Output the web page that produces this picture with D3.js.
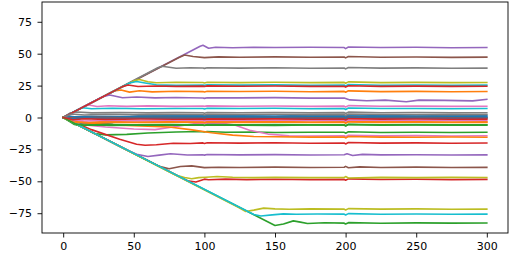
<!DOCTYPE html>
<html>
<head>
<meta charset="utf-8">
<script src="https://d3js.org/d3.v7.min.js"></script>
<style>
  body { margin: 0; background: #fff; }
  text { font-family: "DejaVu Sans", sans-serif; }
</style>
</head>
<body>
<script>
// tick labels
var xTicks = [0, 50, 100, 150, 200, 250, 300];
var yTicks = [-75, -50, -25, 0, 25, 50, 75];

// one array of [x, y] per run, in the order they were plotted (colours cycle)
var run0 = [[0,0],[3,1.2],[8,0.6],[20,0.9],[40,0.7],[60,1.0],[80,0.7],[99,0.9],[100,0.6],[102,1.0],[125,0.8],[150,0.6],[175,0.9],[199,0.8],[200,0.2],[202,1.1],[225,0.7],[250,0.9],[275,0.7],[300,0.8]];
var run1 = [[0,0],[36,20.7],[41,21.6],[47,19.9],[54,20.9],[63,20.1],[80,20.6],[99,20.3],[100,20.0],[102,20.6],[125,20.4],[150,20.6],[175,20.2],[199,20.5],[200,19.8],[202,20.9],[225,20.3],[250,20.5],[275,20.2],[300,20.4]];
var run2 = [[0,0],[150,-84.6],[156,-83.5],[163,-81],[168,-82],[173,-83],[185,-82.5],[199,-82.8],[200,-83.4],[202,-82.4],[225,-82.9],[250,-82.6],[275,-82.8],[300,-82.7]];
var run3 = [[0,0],[88,-49.6],[94,-50.6],[100,-48.3],[103,-48.8],[115,-48.3],[130,-48.7],[150,-48.4],[175,-48.7],[199,-48.5],[200,-49.2],[202,-48.1],[225,-48.6],[250,-48.4],[275,-48.7],[300,-48.5]];
var run4 = [[0,0],[97,55.8],[99,56.6],[103,54.3],[108,55.1],[120,54.7],[135,55.1],[150,54.8],[175,55],[199,54.8],[200,54.0],[202,55.2],[225,54.8],[250,55],[275,54.7],[300,54.8]];
var run5 = [[0,0],[82,47],[86,49],[92,47.8],[100,46.9],[110,47.5],[125,47.2],[150,47.5],[175,47.2],[199,47.4],[200,46.7],[202,47.8],[225,47.2],[250,47.4],[275,47.1],[300,47.3]];
var run6 = [[0,0],[15,8.6],[18,9.8],[24,8.6],[32,9.2],[45,8.7],[60,9.1],[80,8.7],[99,9],[100,8.7],[102,9.1],[125,8.8],[150,9],[175,8.7],[199,8.9],[200,8.2],[202,9.3],[225,8.8],[250,8.9],[275,8.7],[300,8.8]];
var run7 = [[0,0],[67,39],[70,40.2],[80,38.6],[90,39],[99,38.8],[100,38.5],[102,39.0],[125,38.7],[150,39],[175,38.6],[199,38.8],[200,38.1],[202,39.2],[225,38.7],[250,38.9],[275,38.6],[300,38.7]];
var run8 = [[0,0],[50,28.7],[54,29.8],[60,28],[66,27.2],[80,27.6],[99,27.4],[100,27.1],[102,27.6],[125,27.3],[150,27.6],[175,27.3],[199,27.5],[200,26.8],[202,27.9],[225,27.3],[250,27.5],[275,27.3],[300,27.4]];
var run9 = [[0,0],[47,27],[52,28.2],[58,27],[66,25.6],[80,25.2],[99,25.5],[100,25.2],[102,25.7],[125,25.4],[150,25.6],[175,25.3],[199,25.5],[200,24.8],[202,25.9],[225,25.3],[250,25.5],[275,25.3],[300,25.4]];
var run10 = [[0,0],[12,-4.5],[25,-5.3],[35,-4],[42,-1.5],[48,0.8],[55,1.6],[70,1.9],[99,1.7],[100,1.4],[102,1.9],[125,1.8],[150,2],[175,1.7],[199,1.8],[200,1.1],[202,2.2],[225,1.7],[250,1.9],[275,1.7],[300,1.8]];
var run11 = [[0,0],[6,-3],[15,-4],[30,-3.2],[50,-3.6],[75,-3.3],[99,-3.5],[100,-3.8],[102,-3.3],[125,-3.4],[150,-3.2],[175,-3.5],[199,-3.3],[200,-4.0],[202,-3.0],[225,-3.4],[250,-3.3],[275,-3.5],[300,-3.4]];
var run12 = [[0,0],[22,-12.5],[30,-13.6],[45,-13.2],[60,-12.2],[80,-11.4],[97,-11],[100,-11.4],[102,-11.0],[115,-11.6],[135,-11.4],[150,-11.7],[175,-11.5],[199,-11.6],[200,-12.3],[202,-11.2],[225,-11.7],[250,-11.5],[275,-11.7],[300,-11.6]];
var run13 = [[0,0],[20,-9.5],[40,-17],[52,-21],[58,-21.8],[66,-21.3],[78,-20.2],[90,-20.4],[99,-19.9],[100,-20.3],[102,-19.8],[125,-20.1],[150,-19.8],[175,-20.2],[199,-20],[200,-20.7],[202,-19.6],[225,-20.1],[250,-19.9],[275,-20.2],[300,-20]];
var run14 = [[0,0],[28,16.2],[33,17.6],[42,15.5],[52,16.1],[65,15.4],[80,15.7],[99,15.3],[100,15.0],[102,15.5],[125,15.4],[150,15.6],[175,15.2],[199,15.3],[203,13.8],[215,13.1],[228,13.6],[243,12.4],[252,13.6],[270,13.4],[290,13],[300,14.2]];
var run15 = [[0,0],[68,-38.3],[75,-40.2],[83,-38.4],[91,-37.9],[100,-39.3],[110,-39],[125,-39.2],[150,-38.9],[175,-39.2],[199,-39],[200,-38.3],[202,-39.4],[210,-38.7],[225,-39.2],[250,-38.9],[275,-39.2],[300,-39.1]];
var run16 = [[0,0],[12,-5.5],[30,-7.5],[50,-9],[65,-9.5],[80,-7],[95,-4.5],[110,-4.2],[122,-6],[132,-10],[145,-13],[160,-14.3],[175,-14.5],[199,-14.3],[200,-15.0],[202,-13.9],[225,-14.4],[250,-14.2],[275,-14.5],[300,-14.3]];
var run17 = [[0,0],[5,3.5],[10,4.3],[20,3.6],[40,3.9],[60,3.6],[80,3.8],[99,3.7],[100,3.4],[102,3.9],[125,3.7],[150,3.9],[175,3.6],[199,3.8],[200,3.1],[202,4.2],[225,3.7],[250,3.9],[275,3.6],[300,3.7]];
var run18 = [[0,0],[80,-45.2],[86,-47],[91,-48],[96,-47.1],[101,-46.8],[109,-46.2],[120,-46.8],[135,-47.1],[150,-46.9],[175,-47.1],[199,-47],[200,-46.3],[202,-47.4],[225,-46.9],[250,-47.1],[275,-46.9],[300,-47]];
var run19 = [[0,0],[11,6.5],[14,7.6],[20,6.8],[35,7.2],[55,6.9],[80,7.1],[99,7],[100,6.7],[102,7.2],[125,7],[150,7.2],[175,6.9],[199,7],[200,6.3],[202,7.4],[225,7],[250,7.1],[275,6.9],[300,7]];
var run20 = [[0,0],[4,0.8],[12,0.1],[30,0.4],[55,0.2],[80,0.4],[99,0.3],[100,0.0],[102,0.5],[125,0.3],[150,0.5],[175,0.2],[199,0.3],[200,-0.4],[202,0.7],[225,0.3],[250,0.4],[275,0.2],[300,0.3]];
var run21 = [[0,0],[20,-4.5],[40,-6],[60,-6.8],[75,-7.5],[90,-9.5],[105,-12],[120,-13.8],[135,-14.9],[150,-15.1],[175,-15.4],[199,-15.3],[200,-16.0],[202,-14.9],[225,-15.4],[250,-15.5],[275,-15.3],[300,-15.5]];
var run22 = [[0,0],[8,-5.5],[12,-6.5],[20,-5.8],[35,-6.2],[55,-5.9],[75,-6.1],[99,-6],[100,-6.3],[102,-5.8],[125,-6],[150,-6.2],[175,-5.9],[199,-6],[200,-6.7],[202,-5.6],[225,-6.1],[250,-5.9],[275,-6.1],[300,-6]];
var run23 = [[0,0],[42,24.2],[46,25.5],[53,24.3],[65,24.7],[80,24.4],[99,24.6],[100,24.3],[102,24.8],[125,24.5],[150,24.7],[175,24.4],[199,24.5],[200,23.8],[202,24.9],[225,24.4],[250,24.6],[275,24.4],[300,24.5]];
var run24 = [[0,0],[45,-25.5],[52,-28.8],[60,-30.5],[68,-29.5],[76,-28.4],[88,-29.4],[99,-29.2],[100,-29.5],[102,-29.0],[125,-29.3],[150,-29.1],[175,-29.4],[199,-29.2],[201,-28.4],[205,-29.8],[212,-28.9],[225,-29.3],[250,-29.2],[275,-29.4],[300,-29.3]];
var run25 = [[0,0],[10,-0.5],[25,0.1],[45,-0.3],[70,0],[99,-0.2],[100,-0.5],[102,0.0],[125,-0.2],[150,0],[175,-0.3],[199,-0.2],[200,-0.9],[202,0.2],[225,-0.2],[250,-0.1],[275,-0.3],[300,-0.2]];
var run26 = [[0,0],[8,-2],[15,-2.8],[30,-2.1],[50,-2.5],[75,-2.2],[99,-2.4],[100,-2.7],[102,-2.2],[125,-2.3],[150,-2.1],[175,-2.4],[199,-2.3],[200,-3.0],[202,-1.9],[225,-2.3],[250,-2.2],[275,-2.4],[300,-2.3]];
var run27 = [[0,0],[6,2.8],[15,2],[30,2.5],[50,2.2],[75,2.4],[99,2.3],[100,2.0],[102,2.5],[125,2.3],[150,2.5],[175,2.2],[199,2.3],[200,1.6],[202,2.7],[225,2.3],[250,2.4],[275,2.2],[300,2.3]];
var run28 = [[0,0],[124,-70.4],[129,-73.6],[135,-72.6],[142,-71],[150,-71.6],[160,-71.9],[175,-71.6],[199,-71.8],[200,-72.5],[202,-71.4],[225,-71.8],[250,-71.6],[275,-71.9],[300,-71.8]];
var run29 = [[0,0],[135,-76],[140,-77.2],[148,-76.3],[156,-75.5],[165,-75.8],[180,-75.6],[199,-75.7],[200,-76.4],[202,-75.3],[225,-75.8],[250,-75.6],[275,-75.8],[300,-75.7]];
var run30 = [[0,0],[5,-1],[15,-0.5],[35,-0.8],[60,-0.6],[99,-0.7],[100,-1.0],[102,-0.5],[125,-0.7],[150,-0.5],[175,-0.8],[199,-0.7],[200,-1.4],[202,-0.3],[225,-0.7],[250,-0.6],[275,-0.8],[300,-0.7]];
var run31 = [[0,0],[7,-3.5],[18,-4.2],[35,-3.7],[60,-3.9],[85,-3.7],[99,-3.8],[100,-4.1],[102,-3.6],[125,-3.8],[150,-3.6],[175,-3.9],[199,-3.8],[200,-4.5],[202,-3.4],[225,-3.8],[250,-3.7],[275,-3.9],[300,-3.8]];
var run32 = [[0,0],[9,-5.2],[15,-6],[28,-5.6],[50,-5.8],[75,-5.6],[99,-5.7],[100,-6.0],[102,-5.5],[125,-5.7],[150,-5.5],[175,-5.8],[199,-5.7],[200,-6.4],[202,-5.3],[225,-5.7],[250,-5.6],[275,-5.8],[300,-5.7]];
var run33 = [[0,0],[7,-1.8],[15,-1],[30,-1.5],[55,-1.2],[80,-1.4],[99,-1.3],[100,-1.6],[102,-1.1],[125,-1.3],[150,-1.1],[175,-1.4],[199,-1.3],[200,-2.0],[202,-0.9],[225,-1.3],[250,-1.2],[275,-1.4],[300,-1.3]];

var runs = [run0, run1, run2, run3, run4, run5, run6, run7, run8, run9,
            run10, run11, run12, run13, run14, run15, run16, run17, run18, run19,
            run20, run21, run22, run23, run24, run25, run26, run27, run28, run29,
            run30, run31, run32, run33];

var width = 509, height = 260;
var plotLeft = 42, plotRight = 508, plotTop = 2, plotBottom = 233;

var svg = d3.select("body").append("svg")
    .attr("width", width)
    .attr("height", height);

var x = d3.scaleLinear().domain([-15, 315]).range([plotLeft, plotRight]);
var y = d3.scaleLinear().domain([-90.5, 90.5]).range([plotBottom, plotTop]);

// matplotlib's default colour cycle
var color = d3.scaleOrdinal(d3.schemeCategory10);

// straight segments between samples, like plt.plot
var line = d3.line()
    .x(function(d) { return x(d[0]); })
    .y(function(d) { return y(d[1]); });

svg.append("defs").append("clipPath").attr("id", "plot")
    .append("rect")
    .attr("x", plotLeft).attr("y", plotTop)
    .attr("width", plotRight - plotLeft).attr("height", plotBottom - plotTop);

svg.append("g")
    .attr("clip-path", "url(#plot)")
    .selectAll("path")
    .data(runs)
    .enter().append("path")
    .attr("d", line)
    .attr("fill", "none")
    .attr("stroke", function(d, i) { return color(i % 10); })
    .attr("stroke-width", 1.6)
    .attr("stroke-linejoin", "round")
    .attr("stroke-linecap", "square");

var fmt = function(d) { return d < 0 ? "\u2212" + Math.abs(d) : String(d); };

var xAxis = svg.append("g")
    .attr("transform", "translate(0," + plotBottom + ")")
    .call(d3.axisBottom(x).tickValues(xTicks).tickFormat(fmt).tickSize(4.5).tickPadding(4.5));

var yAxis = svg.append("g")
    .attr("transform", "translate(" + plotLeft + ",0)")
    .call(d3.axisLeft(y).tickValues(yTicks).tickFormat(fmt).tickSize(4.5).tickPadding(5.5));

[xAxis, yAxis].forEach(function(g) {
    g.select(".domain").remove();
    g.selectAll("line").attr("stroke", "#000").attr("stroke-width", 0.9);
    g.selectAll("text")
        .attr("fill", "#000")
        .style("font-size", "11px")
        .style("font-family", "DejaVu Sans, sans-serif");
});

// frame round the axes
svg.append("rect")
    .attr("x", plotLeft).attr("y", plotTop)
    .attr("width", plotRight - plotLeft).attr("height", plotBottom - plotTop)
    .attr("fill", "none")
    .attr("stroke", "#000")
    .attr("stroke-width", 0.9);
</script>
</body>
</html>
